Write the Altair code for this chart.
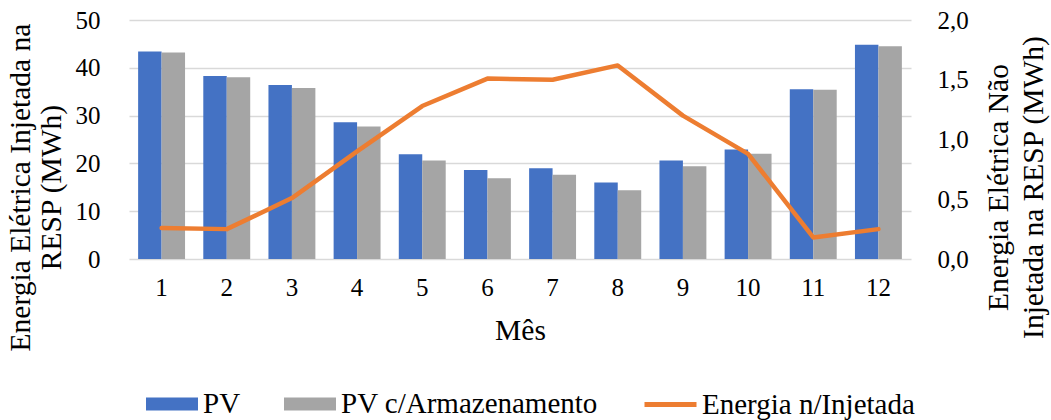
import altair as alt
import pandas as pd

# Monthly energy data (MWh)
meses = list(range(1, 13))
pv = [43.4, 38.3, 36.4, 28.6, 21.9, 18.6, 19.0, 16.0, 20.6, 22.9, 35.5, 44.8]
pv_armazenamento = [43.2, 38.0, 35.8, 27.7, 20.6, 16.9, 17.6, 14.4, 19.4, 22.0, 35.4, 44.5]
energia_nao_injetada = [0.26, 0.25, 0.51, 0.90, 1.28, 1.51, 1.50, 1.62, 1.20, 0.88, 0.18, 0.25]

serie_pv = "PV"
serie_arm = "PV c/Armazenamento"
serie_linha = "Energia n/Injetada"

FONT = "Liberation Serif"
TICK_SIZE = 25
TITLE_SIZE = 29.5
LEGEND_SIZE = 29

barras = pd.DataFrame(
    {"Mês": meses * 2,
     "Série": [serie_pv] * 12 + [serie_arm] * 12,
     "Valor": pv + pv_armazenamento}
)
linha = pd.DataFrame(
    {"Mês": meses, "Série": [serie_linha] * 12, "Energia": energia_nao_injetada}
)

x_enc = alt.X(
    "Mês:O",
    title="Mês",
    scale=alt.Scale(paddingInner=0.28, paddingOuter=0.14),
    axis=alt.Axis(
        labelAngle=0, ticks=False, domain=False, labelPadding=16,
        titlePadding=16, labelFontSize=TICK_SIZE, titleFontSize=TITLE_SIZE,
    ),
)

bar_legend = alt.Legend(
    orient="none", legendX=17, legendY=358, direction="horizontal", title=None,
    symbolType="M-1,-0.25H1V0.25H-1Z", symbolSize=2704, symbolStrokeWidth=0,
    labelFontSize=LEGEND_SIZE, labelOffset=5, columnPadding=43, labelLimit=600,
)

bars = alt.Chart(barras).mark_bar().encode(
    x=x_enc,
    xOffset=alt.XOffset("Série:N", sort=[serie_pv, serie_arm],
                        scale=alt.Scale(paddingInner=0, paddingOuter=0)),
    y=alt.Y(
        "Valor:Q",
        title=["Energia Elétrica Injetada na", "RESP (MWh)"],
        scale=alt.Scale(domain=[0, 50], nice=False),
        axis=alt.Axis(
            values=[0, 10, 20, 30, 40, 50], ticks=False, domain=False,
            labelPadding=29, labelFontSize=TICK_SIZE, titleFontSize=TITLE_SIZE,
            gridColor="#D9D9D9", gridWidth=1.3, titleX=-94, titleY=167,
            titleLineHeight=31,
        ),
    ),
    color=alt.Color(
        "Série:N",
        sort=[serie_pv, serie_arm],
        scale=alt.Scale(domain=[serie_pv, serie_arm], range=["#4472C4", "#A5A5A5"]),
        legend=bar_legend,
    ),
)

line_legend = alt.Legend(
    orient="none", legendX=513, legendY=356, direction="horizontal", title=None,
    symbolType="stroke", symbolSize=2704, symbolStrokeWidth=5,
    labelFontSize=LEGEND_SIZE, labelOffset=3, labelLimit=600,
)

line = alt.Chart(linha).mark_line(strokeWidth=4.5, strokeCap="round", strokeJoin="round").encode(
    x=alt.X("Mês:O"),
    y=alt.Y(
        "Energia:Q",
        title=["Energia Elétrica Não", "Injetada na RESP (MWh)"],
        scale=alt.Scale(domain=[0, 2], nice=False),
        axis=alt.Axis(
            orient="right", values=[0, 0.5, 1, 1.5, 2], grid=False, ticks=False,
            domain=False, labelPadding=26, labelFontSize=TICK_SIZE,
            titleFontSize=TITLE_SIZE,
            labelExpr="replace(format(datum.value, '.1f'), '.', ',')",
            titleAngle=270, titleBaseline="top", titleX=73, titleY=167,
            titleLineHeight=35,
        ),
    ),
    stroke=alt.Stroke(
        "Série:N",
        scale=alt.Scale(domain=[serie_linha], range=["#ED7D31"]),
        legend=line_legend,
    ),
)

chart = (
    alt.layer(bars, line)
    .resolve_scale(y="independent")
    .properties(
        width=782,
        height=239,
        autosize=alt.AutoSizeParams(type="none"),
        padding={"left": 129, "top": 20, "right": 140, "bottom": 161},
    )
    .configure(font=FONT)
    .configure_view(stroke=None)
    .configure_axis(labelColor="#000000", titleColor="#000000", titleFontWeight="normal", labelFont=FONT, titleFont=FONT)
    .configure_legend(labelColor="#000000", labelFont=FONT)
)

chart.save("out.html", embed_options={"renderer": "svg", "actions": False})
